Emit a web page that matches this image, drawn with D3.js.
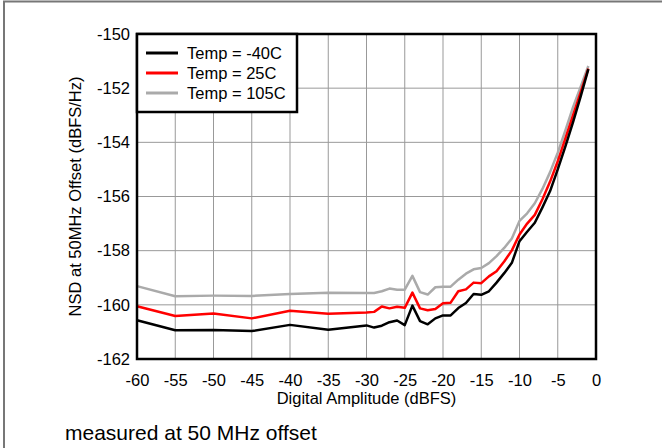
<!DOCTYPE html>
<html><head><meta charset="utf-8">
<script src="https://cdn.jsdelivr.net/npm/d3@7"></script>
<style>
body{margin:0;background:#fff;}
svg{display:block;font-family:"Liberation Sans",Arial,sans-serif;}
</style></head>
<body><svg id="chart" width="662" height="448"></svg>
<script>
const amplitude = [-60,-55,-50,-45,-40,-35,-30,-29,-28,-27,-26,-25,-24,-23,-22,-21,-20,-19,-18,-17,-16,-15,-14,-13,-12,-11,-10,-9,-8,-7,-6,-5,-4,-3,-2,-1];
const tempM40 = [-160.57,-160.94,-160.93,-160.97,-160.74,-160.92,-160.76,-160.84,-160.77,-160.64,-160.58,-160.75,-160.03,-160.6,-160.72,-160.5,-160.39,-160.39,-160.12,-159.93,-159.6,-159.63,-159.5,-159.18,-158.83,-158.45,-157.65,-157.3,-156.97,-156.4,-155.8,-155.0,-154.15,-153.25,-152.3,-151.3];
const temp25 = [-160.05,-160.41,-160.32,-160.5,-160.22,-160.33,-160.28,-160.26,-160.06,-160.13,-160.07,-160.11,-159.55,-160.13,-160.2,-160.15,-159.94,-159.92,-159.5,-159.43,-159.18,-159.2,-158.95,-158.76,-158.4,-157.99,-157.4,-157.0,-156.68,-156.1,-155.45,-154.7,-153.85,-153.0,-152.15,-151.28];
const temp105 = [-159.31,-159.68,-159.66,-159.67,-159.6,-159.55,-159.56,-159.56,-159.5,-159.4,-159.44,-159.44,-158.93,-159.53,-159.62,-159.35,-159.33,-159.33,-159.07,-158.85,-158.69,-158.64,-158.46,-158.2,-157.9,-157.55,-156.9,-156.62,-156.25,-155.72,-155.1,-154.38,-153.56,-152.7,-151.95,-151.18];
const seriesNames = ["Temp = -40C","Temp = 25C","Temp = 105C"];
const seriesColors = ["#000000","#ff0000","#aaaaaa"];
const xTicks = [-60,-55,-50,-45,-40,-35,-30,-25,-20,-15,-10,-5,0];
const yTicks = [-162,-160,-158,-156,-154,-152,-150];
const xTitle = "Digital Amplitude (dBFS)";
const yTitle = "NSD at 50MHz Offset (dBFS/Hz)";
const caption = "measured at 50 MHz offset";

const svg = d3.select("#chart");
const L = 137, R = 596, T = 34, B = 359;
const x = d3.scaleLinear().domain([-60,0]).range([L,R]);
const y = d3.scaleLinear().domain([-162,-150]).range([B,T]);
const fmt = d => String(d);

// outer frame
svg.append("path").attr("d","M4,448V1.5H662").attr("fill","none").attr("stroke","#777").attr("stroke-width",2);

// grid
const g = svg.append("g");
g.selectAll(".vg").data(xTicks).join("line")
  .attr("x1",d=>x(d)).attr("x2",d=>x(d)).attr("y1",T).attr("y2",B)
  .attr("stroke","#999").attr("stroke-width",1);
g.selectAll(".hg").data(yTicks).join("line")
  .attr("x1",L).attr("x2",R).attr("y1",d=>y(d)).attr("y2",d=>y(d))
  .attr("stroke","#999").attr("stroke-width",1);

// axes labels via d3 axes
const xAxis = svg.append("g").attr("transform",`translate(0,${B})`)
  .call(d3.axisBottom(x).tickValues(xTicks).tickSize(0).tickPadding(15).tickFormat(fmt));
xAxis.select(".domain").remove();
xAxis.selectAll("text").attr("font-size","16.5px").attr("fill","#000").attr("font-family","Liberation Sans, Arial, sans-serif");
const yAxis = svg.append("g").attr("transform",`translate(${L},0)`)
  .call(d3.axisLeft(y).tickValues(yTicks).tickSize(0).tickPadding(7).tickFormat(fmt));
yAxis.select(".domain").remove();
yAxis.selectAll("text").attr("font-size","16.5px").attr("fill","#000").attr("font-family","Liberation Sans, Arial, sans-serif");

// series lines
const series = [tempM40, temp25, temp105];
const line = d3.line().x((d,i)=>x(amplitude[i])).y(d=>y(d));
const drawOrder = [2,1,0];
drawOrder.forEach(k=>{
  svg.append("path").datum(series[k]).attr("d",line)
    .attr("fill","none").attr("stroke",seriesColors[k]).attr("stroke-width",2.5)
    .attr("stroke-linejoin","round");
});

// plot frame
svg.append("rect").attr("x",L).attr("y",T).attr("width",R-L).attr("height",B-T)
  .attr("fill","none").attr("stroke","#000").attr("stroke-width",2.5);

// legend
const lg = svg.append("g");
lg.append("rect").attr("x",L).attr("y",T).attr("width",160).attr("height",78)
  .attr("fill","#fff").attr("stroke","#000").attr("stroke-width",2.5);
seriesNames.forEach((n,i)=>{
  const yy = 53 + i*20;
  lg.append("line").attr("x1",146).attr("x2",178).attr("y1",yy).attr("y2",yy)
    .attr("stroke",seriesColors[i]).attr("stroke-width",3);
  lg.append("text").attr("x",187).attr("y",yy).attr("dy","0.35em")
    .attr("font-size","16.5px").text(n);
});

// titles
svg.append("text").attr("x",(L+R)/2).attr("y",404).attr("text-anchor","middle")
  .attr("font-size","16.5px").text(xTitle);
svg.append("text").attr("transform",`translate(81,${(T+B)/2}) rotate(-90)`)
  .attr("text-anchor","middle").attr("font-size","16.5px").text(yTitle);
svg.append("text").attr("x",65).attr("y",440).attr("font-size","21px").text(caption);
</script></body></html>
